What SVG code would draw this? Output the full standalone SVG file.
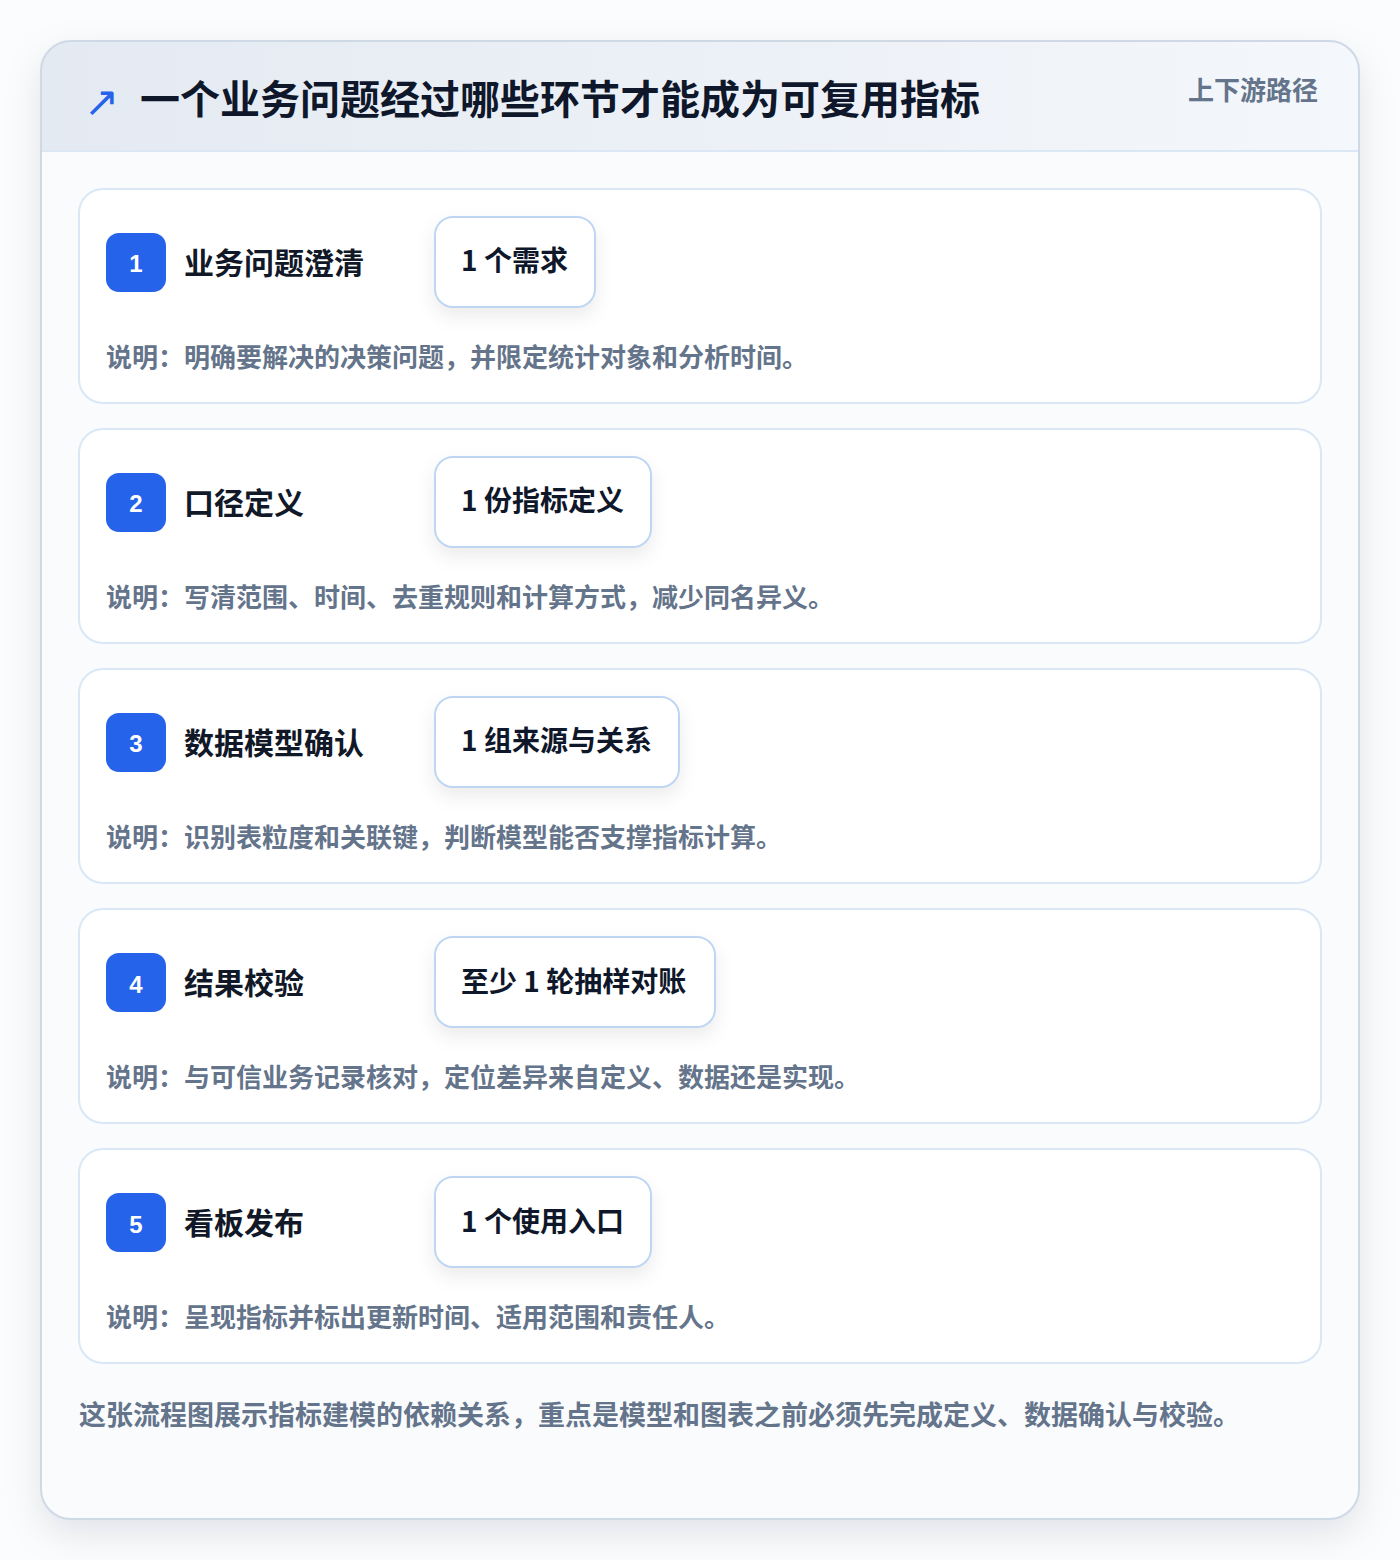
<svg xmlns="http://www.w3.org/2000/svg" width="1400" height="1560" viewBox="0 0 1400 1560">
<defs>
<style>
text{font-family:"Noto Sans CJK SC","Liberation Sans",sans-serif;font-weight:700}
.card{fill:#ffffff;stroke:#dbe7f6;stroke-width:2}
.badge{fill:#2563eb}
.num{fill:#ffffff;font-size:24px;text-anchor:middle;font-family:"Liberation Sans","Noto Sans CJK SC",sans-serif}
.ttl{fill:#111827;font-size:30px}
.chip{fill:#ffffff;stroke:#bfd6f3;stroke-width:2}
.chiptxt{fill:#0f172a;font-size:28px}
.desc{fill:#64748b;font-size:26px}
</style>
<linearGradient id="hdr" x1="0" y1="0" x2="1" y2="0">
<stop offset="0" stop-color="#e4eaf2"/>
<stop offset="1" stop-color="#f4f7fb"/>
</linearGradient>
<filter id="outerShadow" x="-10%" y="-10%" width="120%" height="120%">
<feDropShadow dx="0" dy="14" stdDeviation="18" flood-color="#0f172a" flood-opacity="0.10"/>
</filter>
<filter id="chipShadow" x="-30%" y="-40%" width="160%" height="200%">
<feDropShadow dx="0" dy="8" stdDeviation="9" flood-color="#0f172a" flood-opacity="0.08"/>
</filter>
<clipPath id="outerClip"><rect x="41" y="41" width="1318" height="1478" rx="30"/></clipPath>
</defs>
<rect x="0" y="0" width="1400" height="1560" fill="#fbfcfd"/>
<g id="frame">
<rect x="41" y="41" width="1318" height="1478" rx="30" fill="#f9fbfd" filter="url(#outerShadow)"/>
<g clip-path="url(#outerClip)">
<rect x="41" y="41" width="1318" height="110" fill="url(#hdr)"/>
<line x1="41" y1="151" x2="1359" y2="151" stroke="#dbe7f5" stroke-width="2"/>
</g>
<rect x="41" y="41" width="1318" height="1478" rx="30" fill="none" stroke="#cfd9e6" stroke-width="2"/>
</g>
<g id="header">
<text x="84" y="116" font-size="42" style="fill:#2563eb;font-family:'DejaVu Sans',sans-serif;font-weight:400">↗</text>
<text x="140" y="114" font-size="40" fill="#0f172a">一个业务问题经过哪些环节才能成为可复用指标</text>
<text x="1318" y="100" font-size="26" fill="#64748b" text-anchor="end">上下游路径</text>
</g>
<g id="step1">
<rect class="card" x="79" y="189" width="1242" height="214" rx="24"/>
<rect class="badge" x="106" y="233" width="60" height="59" rx="13"/>
<text class="num" x="136" y="272">1</text>
<text class="ttl" x="184" y="274">业务问题澄清</text>
<rect class="chip" x="435" y="217" width="160" height="90" rx="18" filter="url(#chipShadow)"/>
<text class="chiptxt" x="461" y="271">1 个需求</text>
<text class="desc" x="106" y="367">说明：明确要解决的决策问题，并限定统计对象和分析时间。</text>
</g>
<g id="step2">
<rect class="card" x="79" y="429" width="1242" height="214" rx="24"/>
<rect class="badge" x="106" y="473" width="60" height="59" rx="13"/>
<text class="num" x="136" y="512">2</text>
<text class="ttl" x="184" y="514">口径定义</text>
<rect class="chip" x="435" y="457" width="216" height="90" rx="18" filter="url(#chipShadow)"/>
<text class="chiptxt" x="461" y="511">1 份指标定义</text>
<text class="desc" x="106" y="607">说明：写清范围、时间、去重规则和计算方式，减少同名异义。</text>
</g>
<g id="step3">
<rect class="card" x="79" y="669" width="1242" height="214" rx="24"/>
<rect class="badge" x="106" y="713" width="60" height="59" rx="13"/>
<text class="num" x="136" y="752">3</text>
<text class="ttl" x="184" y="754">数据模型确认</text>
<rect class="chip" x="435" y="697" width="244" height="90" rx="18" filter="url(#chipShadow)"/>
<text class="chiptxt" x="461" y="751">1 组来源与关系</text>
<text class="desc" x="106" y="847">说明：识别表粒度和关联键，判断模型能否支撑指标计算。</text>
</g>
<g id="step4">
<rect class="card" x="79" y="909" width="1242" height="214" rx="24"/>
<rect class="badge" x="106" y="953" width="60" height="59" rx="13"/>
<text class="num" x="136" y="993">4</text>
<text class="ttl" x="184" y="994">结果校验</text>
<rect class="chip" x="435" y="937" width="280" height="90" rx="18" filter="url(#chipShadow)"/>
<text class="chiptxt" x="461" y="992">至少 1 轮抽样对账</text>
<text class="desc" x="106" y="1087">说明：与可信业务记录核对，定位差异来自定义、数据还是实现。</text>
</g>
<g id="step5">
<rect class="card" x="79" y="1149" width="1242" height="214" rx="24"/>
<rect class="badge" x="106" y="1193" width="60" height="59" rx="13"/>
<text class="num" x="136" y="1233">5</text>
<text class="ttl" x="184" y="1234">看板发布</text>
<rect class="chip" x="435" y="1177" width="216" height="90" rx="18" filter="url(#chipShadow)"/>
<text class="chiptxt" x="461" y="1232">1 个使用入口</text>
<text class="desc" x="106" y="1327">说明：呈现指标并标出更新时间、适用范围和责任人。</text>
</g>
<g id="connectors"></g>
<g id="footer">
<text x="79" y="1425" font-size="27" fill="#64748b">这张流程图展示指标建模的依赖关系，重点是模型和图表之前必须先完成定义、数据确认与校验。</text>
</g>
</svg>
